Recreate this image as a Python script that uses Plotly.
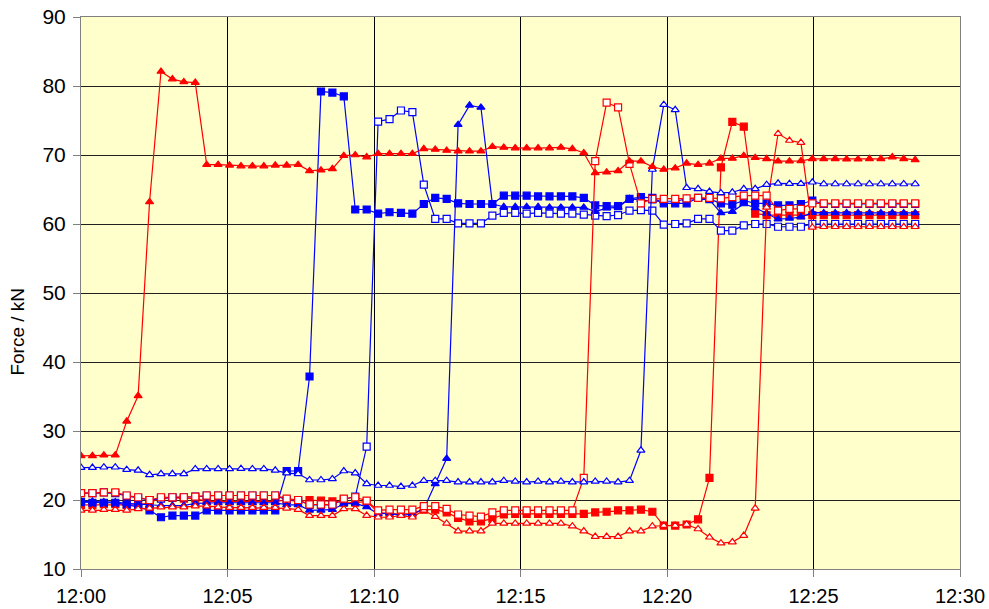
from datetime import datetime, timedelta
import plotly.graph_objects as go

# Sample timestamps: 74 readings, one every 23.4 s starting at 12:00
start = datetime(2000, 1, 1, 12, 0, 0)
n_samples = 74
sample_seconds = 23.4
times = [start + timedelta(seconds=sample_seconds * i) for i in range(n_samples)]

# Force readings (kN) for each load cell
red_filled_tri = [26.4, 26.4, 26.5, 26.5, 31.4, 35.1, 63.2, 82.1, 81.0, 80.6,
                  80.5, 68.6, 68.6, 68.5, 68.4, 68.4, 68.4, 68.5, 68.5, 68.6,
                  67.7, 67.8, 68.0, 69.9, 70.0, 69.7, 70.2, 70.2, 70.2, 70.2,
                  70.9, 70.8, 70.65, 70.55, 70.55, 70.55, 71.2, 71.1, 71.0, 71.0,
                  71.0, 71.0, 71.1, 70.9, 70.3, 67.4, 67.5, 67.7, 69.1, 69.1,
                  68.3, 67.9, 68.1, 68.8, 68.6, 68.8, 69.5, 69.5, 69.9, 69.6,
                  69.45, 69.1, 69.1, 69.15, 69.45, 69.45, 69.45, 69.4, 69.4, 69.45,
                  69.45, 69.7, 69.45, 69.3]

red_filled_sq = [19.3, 19.3, 19.4, 19.4, 19.3, 19.3, 19.6, 20.3, 20.3, 20.2,
                 20.2, 19.8, 19.8, 19.8, 19.8, 19.8, 19.8, 19.8, 20.0, 19.8,
                 20.0, 19.9, 19.8, 19.6, 19.6, 19.8, 18.2, 18.0, 18.0, 18.0,
                 18.6, 18.6, 18.2, 17.4, 16.9, 16.9, 17.3, 17.9, 18.0, 18.0,
                 18.0, 18.0, 18.0, 18.0, 18.0, 18.2, 18.3, 18.5, 18.5, 18.6,
                 18.3, 16.3, 16.3, 16.45, 17.2, 23.2, 68.2, 74.8, 74.1, 61.5,
                 61.3, 61.3, 61.3, 61.3, 61.3, 61.3, 61.3, 61.3, 61.3, 61.3,
                 61.3, 61.3, 61.3, 61.3]

red_open_sq = [21.0, 21.0, 21.1, 21.1, 20.65, 20.4, 20.0, 20.4, 20.4, 20.4,
               20.5, 20.65, 20.65, 20.65, 20.65, 20.65, 20.65, 20.65, 20.2, 20.0,
               19.35, 19.35, 19.35, 20.2, 20.4, 19.9, 18.5, 18.6, 18.6, 18.6,
               19.1, 19.1, 18.7, 17.9, 17.75, 17.6, 18.2, 18.5, 18.5, 18.5,
               18.5, 18.5, 18.5, 18.5, 23.2, 69.1, 77.6, 76.9, 68.7, 63.0,
               63.65, 63.65, 63.65, 63.7, 63.8, 63.8, 63.7, 63.9, 64.1, 64.1,
               64.1, 61.95, 62.2, 62.2, 63.0, 63.0, 63.0, 63.0, 63.0, 63.0,
               63.0, 63.0, 63.0, 63.0]

red_open_tri = [18.5, 18.5, 18.6, 18.6, 18.5, 18.7, 18.8, 18.96, 18.96, 18.96,
                19.1, 19.1, 18.96, 18.9, 18.9, 18.9, 18.9, 18.9, 18.8, 18.6,
                17.75, 17.75, 17.75, 18.7, 18.7, 17.75, 17.5, 17.5, 17.75, 17.5,
                18.5, 17.6, 16.6, 15.5, 15.5, 15.5, 16.6, 16.6, 16.6, 16.6,
                16.6, 16.6, 16.6, 16.2, 15.5, 14.7, 14.7, 14.7, 15.5, 15.5,
                16.2, 16.3, 16.3, 16.45, 15.8, 14.6, 13.75, 13.9, 14.85, 18.8,
                62.4, 73.1, 72.1, 71.8, 59.5, 59.6, 59.6, 59.6, 59.6, 59.6,
                59.6, 59.6, 59.6, 59.6]

blue_filled_sq = [19.7, 19.6, 19.6, 19.6, 19.35, 19.0, 18.5, 17.5, 17.75, 17.75,
                  17.75, 18.5, 18.5, 18.5, 18.5, 18.5, 18.5, 18.5, 24.2, 24.2,
                  37.9, 79.2, 79.05, 78.5, 62.1, 62.1, 61.5, 61.7, 61.6, 61.5,
                  62.9, 63.8, 63.65, 63.0, 62.9, 62.9, 62.9, 64.1, 64.1, 64.1,
                  64.0, 64.0, 64.0, 64.0, 63.8, 62.7, 62.6, 62.6, 63.65, 63.9,
                  63.8, 63.0, 63.0, 63.0, 63.8, 63.6, 63.0, 62.8, 63.4, 63.0,
                  63.0, 62.7, 62.7, 62.9, 63.4, 62.9, 62.9, 62.9, 62.9, 62.9,
                  62.9, 62.9, 62.9, 62.9]

blue_open_sq = [21.0, 21.0, 21.1, 21.0, 20.6, 20.3, 20.0, 20.2, 20.4, 20.4,
                20.5, 20.65, 20.65, 20.65, 20.65, 20.65, 20.65, 20.65, 20.0, 20.0,
                19.3, 19.3, 19.3, 20.1, 20.5, 27.75, 74.85, 75.2, 76.45, 76.2,
                65.7, 60.75, 60.75, 60.1, 60.1, 60.1, 61.2, 61.6, 61.6, 61.5,
                61.6, 61.5, 61.5, 61.5, 61.35, 61.2, 61.15, 61.3, 61.95, 62.0,
                61.95, 59.9, 60.0, 60.1, 60.75, 60.75, 59.05, 59.05, 59.8, 60.0,
                60.0, 59.6, 59.6, 59.6, 60.0, 60.0, 60.0, 60.0, 60.0, 60.0,
                60.0, 60.0, 60.0, 60.0]

blue_open_tri = [24.7, 24.7, 24.75, 24.75, 24.4, 24.3, 23.65, 23.8, 23.8, 23.8,
                 24.5, 24.5, 24.5, 24.5, 24.55, 24.5, 24.5, 24.3, 23.9, 23.8,
                 22.9, 22.9, 23.05, 24.2, 23.9, 22.35, 22.1, 22.1, 21.95, 22.1,
                 22.8, 22.8, 22.8, 22.6, 22.6, 22.6, 22.6, 22.8, 22.7, 22.6,
                 22.7, 22.6, 22.7, 22.6, 22.6, 22.7, 22.7, 22.6, 22.8, 27.2,
                 67.9, 77.3, 76.55, 65.25, 65.1, 64.7, 64.5, 64.6, 65.1, 65.1,
                 65.7, 65.9, 65.85, 65.85, 66.05, 65.8, 65.8, 65.8, 65.8, 65.8,
                 65.8, 65.8, 65.8, 65.8]

blue_filled_tri = [19.8, 19.8, 19.7, 19.7, 19.5, 19.4, 19.2, 19.2, 19.2, 19.2,
                   19.5, 19.6, 19.6, 19.6, 19.6, 19.6, 19.6, 19.6, 19.3, 19.3,
                   18.5, 18.5, 18.6, 19.45, 19.5, 19.0, 18.0, 18.1, 17.75, 18.0,
                   18.7, 22.35, 26.0, 74.4, 77.2, 76.9, 62.9, 62.5, 62.5, 62.5,
                   62.5, 62.4, 62.4, 62.4, 62.4, 61.8, 62.3, 62.4, 63.65, 63.5,
                   63.3, 63.3, 63.3, 63.65, 63.65, 63.5, 61.6, 61.8, 62.9, 62.35,
                   61.55, 60.7, 60.8, 61.0, 61.65, 61.6, 61.6, 61.6, 61.6, 61.6,
                   61.6, 61.6, 61.6, 61.6]

RED = "#FF0000"
BLUE = "#0000FF"

# (values, colour, symbol, filled) in drawing order
series = [
    (red_filled_sq, RED, "square", True),
    (blue_open_sq, BLUE, "square", False),
    (blue_filled_sq, BLUE, "square", True),
    (blue_filled_tri, BLUE, "triangle-up", True),
    (red_open_tri, RED, "triangle-up", False),
    (red_open_sq, RED, "square", False),
    (blue_open_tri, BLUE, "triangle-up", False),
    (red_filled_tri, RED, "triangle-up", True),
]

fig = go.Figure()
for values, colour, symbol, filled in series:
    fig.add_trace(go.Scatter(
        x=times, y=values, mode="lines+markers",
        line=dict(color=colour, width=1.2),
        marker=dict(symbol=symbol, size=7,
                    color=colour if filled else "white",
                    line=dict(color=colour, width=1.2)),
        hoverinfo="x+y",
    ))

FONT = "Liberation Sans, Arial, sans-serif"
end = start + timedelta(minutes=30)

fig.update_layout(
    width=989, height=609,
    margin=dict(l=81, r=29, t=17, b=40, pad=0),
    plot_bgcolor="#FFFFCC", paper_bgcolor="white",
    showlegend=False,
    font=dict(family=FONT, size=20, color="black"),
    annotations=[dict(
        text="Force / kN", textangle=-90,
        xref="paper", yref="paper", x=-0.0717, y=0.43,
        xanchor="center", yanchor="middle", showarrow=False,
        font=dict(family=FONT, size=19, color="black"),
    )],
)
fig.update_xaxes(
    type="date", range=[start, end], automargin=False,
    tick0=start, dtick=5 * 60 * 1000, tickformat="%H:%M",
    showgrid=True, gridcolor="black", gridwidth=1,
    ticks="outside", ticklen=7, tickcolor="#808080",
    showline=True, linecolor="#808080", linewidth=1, mirror=True,
    zeroline=False, tickfont=dict(size=20), ticklabelstandoff=2,
)
fig.update_yaxes(
    range=[10, 90], dtick=10, tick0=10, automargin=False,
    showgrid=True, gridcolor="#202020", gridwidth=1,
    ticks="outside", ticklen=7, tickcolor="#808080",
    showline=True, linecolor="#808080", linewidth=1, mirror=True,
    zeroline=False, tickfont=dict(size=21), ticklabelstandoff=3,
)

fig.write_html("out.html")
